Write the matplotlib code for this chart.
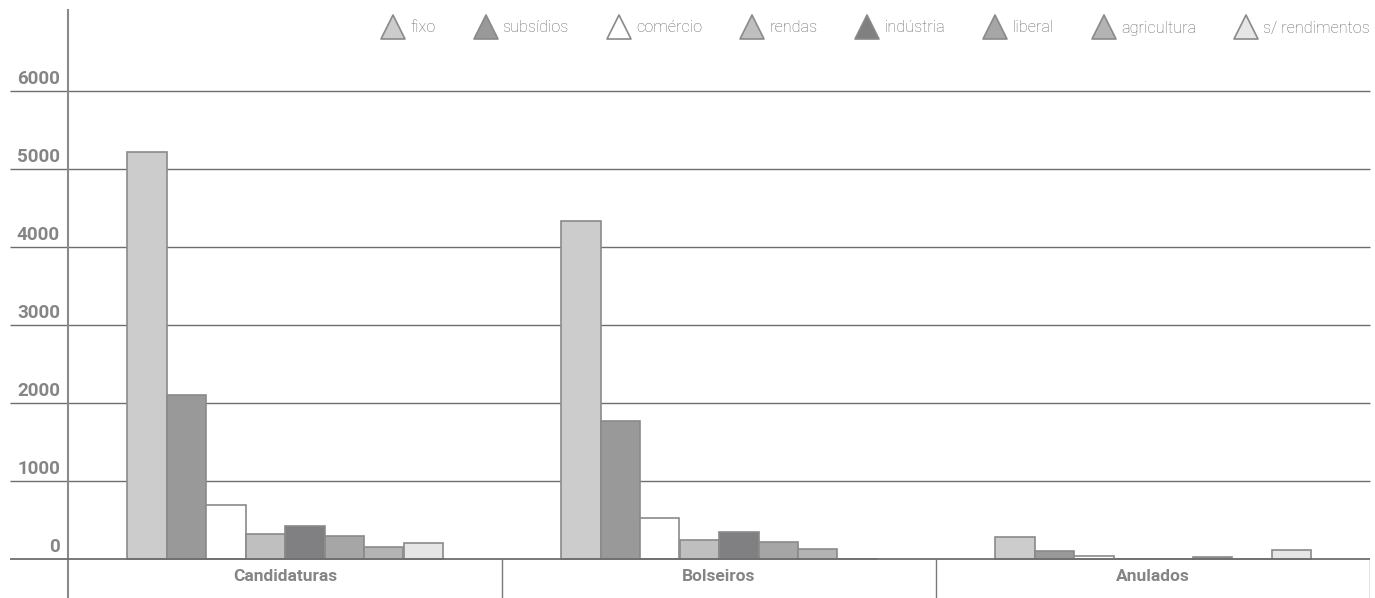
import numpy as np
import matplotlib.pyplot as plt
from matplotlib.lines import Line2D
from matplotlib.markers import MarkerStyle

groups = ['Candidaturas', 'Bolseiros', 'Anulados']
series = ['fixo', 'subsídios', 'comércio', 'rendas', 'indústria', 'liberal', 'agricultura', 's/ rendimentos']
colors = ['#cccccc', '#999999', '#ffffff', '#bfbfbf', '#808083', '#a6a6a6', '#b3b3b3', '#e6e6e6']

fixo = [5220, 4335, 282]
subsidios = [2100, 1775, 107]
comercio = [690, 522, 43]
rendas = [317, 240, 0]
industria = [427, 346, 0]
liberal = [299, 214, 22]
agricultura = [150, 124, 0]
sem_rend = [201, 0, 120]
values = [fixo, subsidios, comercio, rendas, industria, liberal, agricultura, sem_rend]

yticks = [0, 1000, 2000, 3000, 4000, 5000, 6000]

W, H = 1375, 598
fig = plt.figure(figsize=(W / 100, H / 100), dpi=100)
ax = fig.add_axes([68 / W, 0, (1370 - 68) / W, (598 - 10) / H])

px = 78 / 1000  # pixels per unit
ymin = -(598 - 559) / px
ymax = (559 - 10) / px
ax.set_ylim(ymin, ymax)
ax.set_xlim(0, 3)

edge = '#8a8a8a'
gray_txt = '#858585'
bw = 39.5 / 434
x = np.arange(3) + 0.5
for i, (name, vals) in enumerate(zip(series, values)):
    ax.bar(x + (i - 3.5) * bw, vals, bw, color=colors[i], edgecolor=edge,
           linewidth=1.2, zorder=3)

# gridlines reaching past the axis on the left
xleft = (10 - 68) / 434
ax.hlines(yticks[1:], xleft, 3, colors='#6e6e6e', linewidth=1, zorder=2, clip_on=False)
ax.hlines(0, xleft, 3, colors='#6e6e6e', linewidth=1.3, zorder=4, clip_on=False)
for t in yticks:
    ax.annotate(str(t), (-(8 / 434), t), xytext=(0, 2), textcoords='offset points',
                ha='right', va='bottom', fontsize=13.5, fontweight='bold',
                color=gray_txt, family='Roboto', annotation_clip=False)

# category dividers and labels
ax.vlines([1, 2, 3], ymin, 0, colors='#7a7a7a', linewidth=1, zorder=2)
for xi, g in zip(x, groups):
    ax.text(xi, -218, g, ha='center', va='center', fontsize=12.5, fontweight='bold',
            color=gray_txt, family='Roboto')

for s in ['top', 'right', 'bottom']:
    ax.spines[s].set_visible(False)
ax.spines['left'].set_color('#8a8a8a')
ax.spines['left'].set_linewidth(1.5)
ax.set_xticks([])
ax.set_yticks([])

tri = MarkerStyle('^', joinstyle='round')
handles = [Line2D([], [], linestyle='none', marker=tri, markersize=17.5,
                  markerfacecolor=c, markeredgecolor='#8a8a8a', markeredgewidth=1.2)
           for c in colors]
fig.legend(handles, series, loc='center right', bbox_to_anchor=(1378 / W, 1 - 28 / H),
           ncol=8, frameon=False, borderpad=0, handlelength=1.5, handletextpad=0.3,
           columnspacing=2.33, prop={'family': 'Roboto', 'weight': 'light', 'size': 11.7},
           labelcolor='#666666')

fig.savefig('out.png', dpi=100)
